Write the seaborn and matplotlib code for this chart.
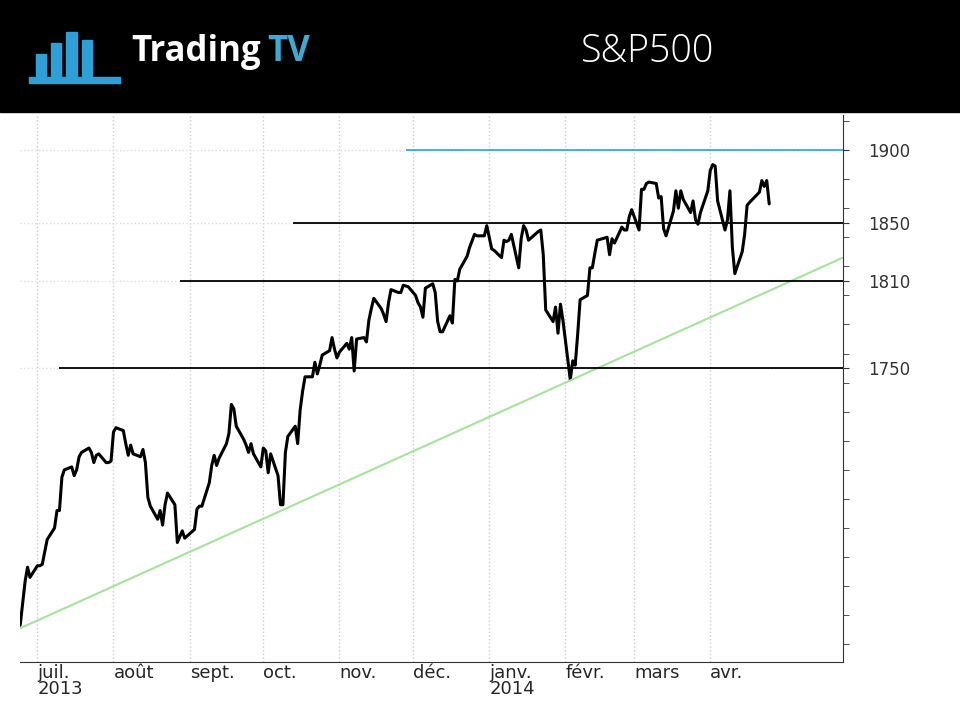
import matplotlib
matplotlib.use("Agg")
import matplotlib.pyplot as plt
import matplotlib.dates as mdates
from matplotlib.patches import Rectangle
import seaborn as sns
import pandas as pd

# S&P500 daily closes, 24 Jun 2013 - 25 Apr 2014
closes = [
    1573, 1588, 1603, 1613, 1606,
    1614, 1614, 1615, 1632, 1640, 1652, 1652, 1675, 1680, 1682, 1676, 1680, 1689, 1692,
    1695, 1692, 1685, 1690, 1691, 1685, 1685, 1686,
    1706, 1709, 1707, 1698, 1690, 1697, 1691, 1689, 1694, 1685, 1661, 1655, 1646, 1652,
    1642, 1656, 1664, 1656, 1630, 1634, 1638, 1633,
    1639, 1653, 1655, 1655, 1671, 1683, 1690, 1683, 1688, 1698, 1705, 1725, 1722, 1710,
    1701, 1697, 1692, 1698, 1691, 1682,
    1695, 1693, 1678, 1691, 1676, 1656, 1656, 1692, 1703, 1710, 1698, 1721, 1734, 1744,
    1744, 1754, 1746, 1752, 1759, 1762, 1771, 1763, 1757,
    1761, 1767, 1763, 1771, 1748, 1770, 1771, 1768, 1783, 1791, 1798, 1791, 1787, 1782,
    1795, 1804, 1802, 1802, 1807, 1806,
    1800, 1795, 1792, 1785, 1805, 1808, 1802, 1782, 1775, 1775, 1786, 1781, 1811, 1810,
    1818, 1827, 1833, 1842, 1841, 1841, 1848,
    1832, 1831, 1826, 1838, 1837, 1838, 1842, 1819, 1839, 1848, 1845, 1838, 1844, 1845,
    1828, 1790, 1782, 1792, 1774, 1794, 1783,
    1742, 1755, 1752, 1773, 1797, 1800, 1819, 1819, 1829, 1838, 1840, 1828, 1839, 1836,
    1847, 1845, 1845, 1854, 1859,
    1845, 1873, 1873, 1877, 1878, 1877, 1867, 1868, 1846, 1841, 1858, 1872, 1860, 1872,
    1866, 1857, 1865, 1852, 1849, 1857, 1872,
    1886, 1890, 1889, 1865, 1845, 1852, 1872, 1833, 1815, 1830, 1842, 1862, 1864, 1871,
    1879, 1875, 1879, 1863,
]
holidays = ["2013-07-04", "2013-09-02", "2013-11-28", "2013-12-25", "2014-01-01",
            "2014-01-20", "2014-02-17", "2014-04-18"]

levels = [1750, 1810, 1850, 1900]
level_starts = ["2013-07-10", "2013-08-28", "2013-10-13", "2013-11-28"]
level_colors = ["black", "black", "black", "#3fa9cf"]

trend_dates = ["2013-06-24", "2014-05-25"]
trend_values = [1571, 1826]

month_labels = ["juil.\n2013", "août", "sept.", "oct.", "nov.", "déc.",
                "janv.\n2014", "févr.", "mars", "avr."]

dates = pd.bdate_range("2013-06-24", "2014-04-25")
dates = dates[~dates.isin(pd.to_datetime(holidays))]
n = min(len(dates), len(closes))
df = pd.DataFrame({"date": dates[:n], "close": closes[:n]})

sns.set_style("white")
fig = plt.figure(figsize=(9.6, 7.2), dpi=100)
fig.patch.set_facecolor("white")

# header band
fig.patches.append(Rectangle((0, 1 - 112 / 720), 1, 112 / 720, transform=fig.transFigure,
                             color="black", zorder=0))
for i, h in enumerate([0.030, 0.045, 0.060, 0.050]):
    fig.patches.append(Rectangle((0.037 + i * 0.016, 0.895), 0.011, h,
                                 transform=fig.transFigure, color="#2f9fd8", zorder=1))
fig.patches.append(Rectangle((0.030, 0.885), 0.095, 0.008, transform=fig.transFigure,
                             color="#2f9fd8", zorder=1))
fig.text(0.137, 0.928, "Trading", color="white", fontsize=25, fontweight="bold",
         va="center", family="Open Sans")
fig.text(0.278, 0.928, "TV", color="#3fa9cf", fontsize=25, fontweight="bold",
         va="center", family="Open Sans")
fig.text(0.675, 0.928, "S&P500", color="white", fontsize=27, va="center", ha="center",
         family="Open Sans", fontweight="light")

ax = fig.add_axes([0.021, 0.081, 0.857, 0.759])
sns.lineplot(data=df, x="date", y="close", color="black", linewidth=2.2, ax=ax)
sns.lineplot(x=pd.to_datetime(trend_dates), y=trend_values, color="#a6e39a",
             linewidth=1.5, ax=ax)
xmax = pd.Timestamp("2014-05-25")
for lv, st, c in zip(levels, level_starts, level_colors):
    ax.hlines(lv, pd.Timestamp(st), xmax, color=c, linewidth=1.3, zorder=3)

ax.set_xlim(pd.Timestamp("2013-06-24"), xmax)
ax.set_ylim(1548, 1924)
ax.set_xlabel("")
ax.set_ylabel("")

month_pos = pd.date_range("2013-07-01", "2014-04-01", freq="MS")
ax.set_xticks(month_pos)
ax.set_xticklabels(month_labels, fontsize=13, ha="left", linespacing=0.85)
ax.tick_params(axis="x", length=0, pad=2)
ax.grid(axis="x", color="#cccccc", linestyle=":", linewidth=1)
ax.grid(axis="y", color="#dddddd", linestyle=":", linewidth=1)

ax.yaxis.tick_right()
ax.set_yticks(levels)
ax.set_yticklabels([str(v) for v in levels], fontsize=12)
ax.set_yticks(range(1560, 1921, 20), minor=True)
ax.tick_params(axis="y", which="both", length=4, direction="out", pad=14, colors="#333333")
for s in ["top", "left"]:
    ax.spines[s].set_visible(False)
ax.spines["right"].set_color("#333333")
ax.spines["bottom"].set_color("#333333")

fig.savefig("out.png", dpi=100)
